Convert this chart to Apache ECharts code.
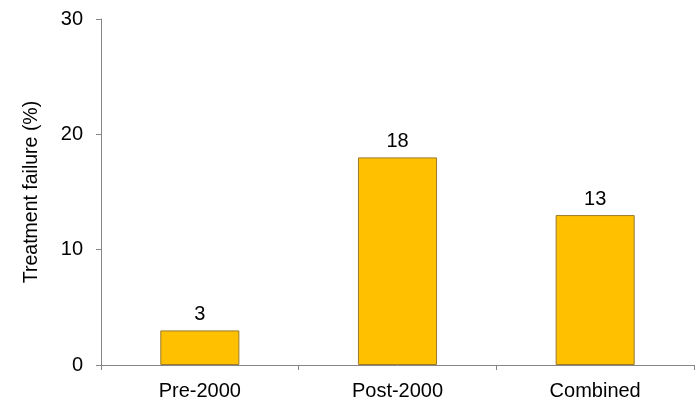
<!DOCTYPE html>
<html>
<head>
<meta charset="utf-8">
<style>
  html, body { margin: 0; padding: 0; background: #ffffff; }
  #chart { width: 696px; height: 401px; }
</style>
<script src="https://cdn.jsdelivr.net/npm/echarts@6/dist/echarts.min.js"></script>
</head>
<body>
<div id="chart"></div>
<script>
// Treatment failure by period
const categories = ['Pre-2000', 'Post-2000', 'Combined'];
const failureRates = [3, 18, 13];
const yTicks = [0, 10, 20, 30];

const chart = echarts.init(document.getElementById('chart'));
const FONT = 'Liberation Sans, Arial, sans-serif';
const AXIS_GREY = '#868686';

chart.setOption({
  animation: false,
  grid: { left: 101, right: 2, top: 19, bottom: 35 },
  xAxis: {
    type: 'category',
    data: categories,
    boundaryGap: true,
    axisLine: { show: true, lineStyle: { color: AXIS_GREY, width: 1 } },
    axisTick: { show: true, inside: false, length: 5, alignWithLabel: false, lineStyle: { color: AXIS_GREY } },
    axisLabel: { color: '#000', fontFamily: FONT, fontSize: 20, margin: 16 },
    splitLine: { show: false }
  },
  yAxis: {
    type: 'value',
    min: yTicks[0],
    max: yTicks[yTicks.length - 1],
    interval: 10,
    name: 'Treatment failure (%)',
    nameLocation: 'middle',
    nameGap: 59,
    nameRotate: 90,
    nameTextStyle: { color: '#000', fontFamily: FONT, fontSize: 19.5 },
    axisLine: { show: true, lineStyle: { color: AXIS_GREY, width: 1 } },
    axisTick: { show: true, inside: false, length: 5, lineStyle: { color: AXIS_GREY } },
    axisLabel: { color: '#000', fontFamily: FONT, fontSize: 20, margin: 18 },
    splitLine: { show: false }
  },
  series: [{
    type: 'bar',
    data: failureRates,
    barWidth: '40%',
    itemStyle: { color: '#FFC000', borderColor: '#9C7A2A', borderWidth: 1 },
    label: {
      show: true,
      position: 'top',
      distance: 6,
      color: '#000',
      fontFamily: FONT,
      fontSize: 20
    }
  }]
});
</script>
</body>
</html>
